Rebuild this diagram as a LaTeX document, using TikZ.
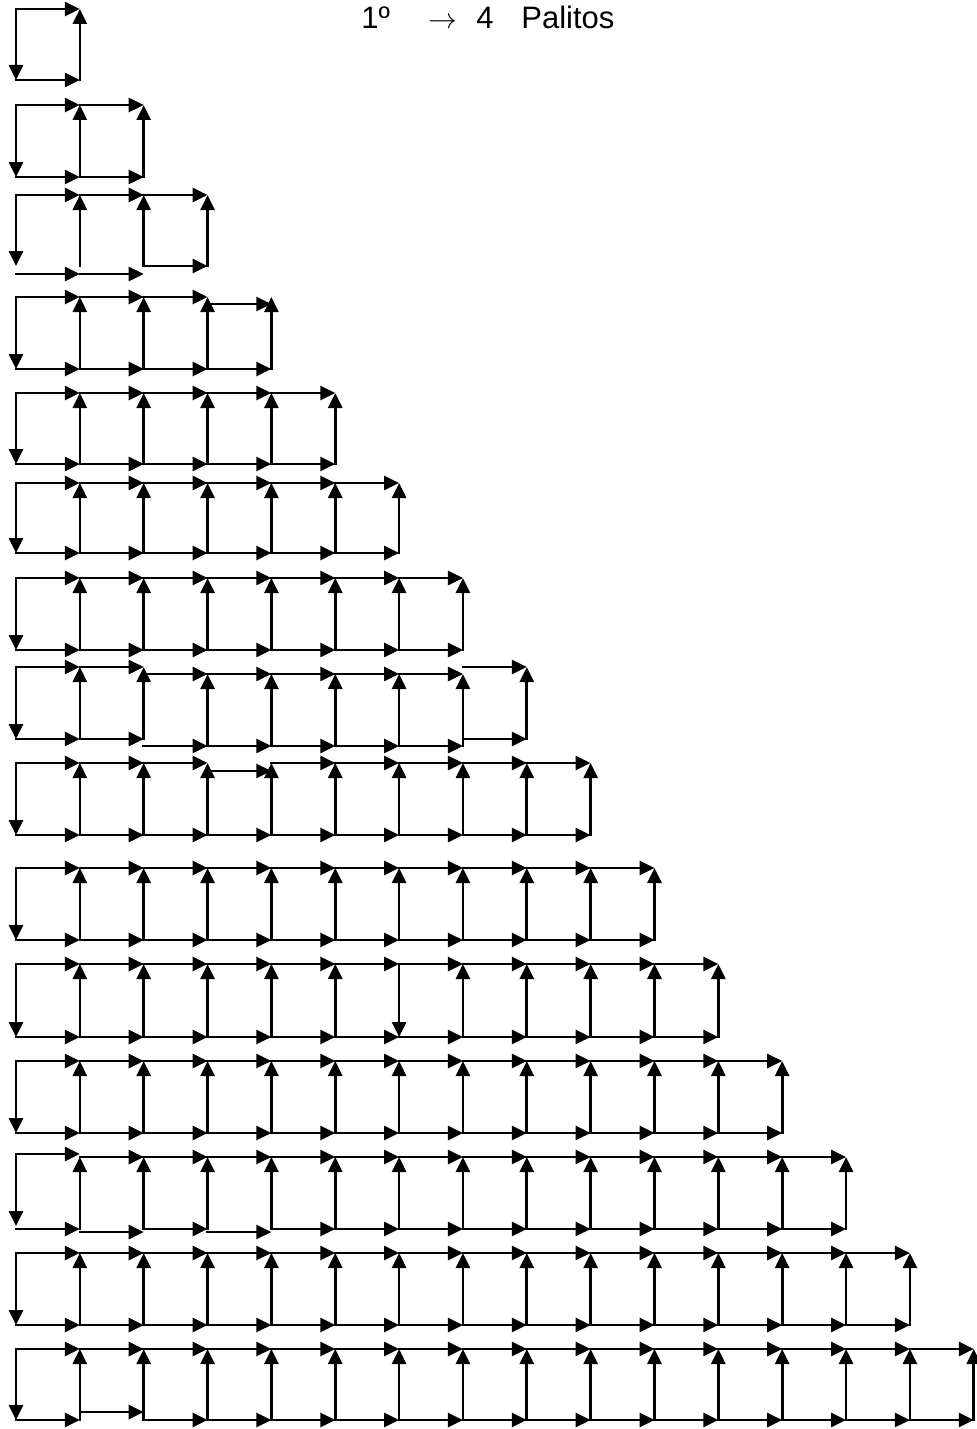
\documentclass[tikz,border=0pt]{standalone}
\usepackage{fontspec}
\setmainfont{Liberation Sans}
\usetikzlibrary{arrows.meta}
\tikzset{arr/.style={line width=1.35pt,line cap=rect,-{Triangle[length=7.5pt,width=7pt]}},
  ttl/.style={inner sep=0,font=\fontsize{15.5pt}{18pt}\selectfont}}
\newcommand\hx[2]{\draw[arr] ({16+63.85*((#1)-1)},#2) -- ({16+63.85*(#1)},#2);}
\newcommand\vu[3]{\draw[arr] ({16+63.85*(#1)},#2) -- ({16+63.85*(#1)},#3);}
\newcommand\rowreg[3]{%
  \vu{0}{#2}{#3}
  \foreach \j in {1,...,#1}{\hx{\j}{#2}\hx{\j}{#3}\vu{\j}{#3}{#2}}}
\begin{document}
\begin{tikzpicture}[x=0.5pt,y=-0.5pt]
\fill[white] (0,0) rectangle (977,1429);
\useasboundingbox (0,0) rectangle (977,1429);
% title
\node[ttl,anchor=base west] (n1) at (361,29) {1º};
\node[ttl,anchor=base] (ar) at (443,29) {$\rightarrow$};
\node[ttl,anchor=base] (n4) at (485,29) {4};
\node[ttl,anchor=base west] (pal) at (521,29) {Palitos};
% row 1, 2
\rowreg{1}{9}{80}
\rowreg{2}{105}{177}
% row 3
\vu{0}{195}{266}
\foreach \j in {1,2,3}{\hx{\j}{195}\vu{\j}{266}{195}}
\hx{1}{274}\hx{2}{274}\hx{3}{266}
% row 4
\vu{0}{297}{369}
\foreach \j in {1,...,4}{\hx{\j}{369}\vu{\j}{369}{297}}
\foreach \j in {1,2,3}{\hx{\j}{297}}
\hx{4}{304}
% rows 5-7
\rowreg{5}{393}{464}
\rowreg{6}{483}{553}
\rowreg{7}{578}{650}
% row 8
\vu{0}{667}{739}
\foreach \j in {1,2,8}{\hx{\j}{667}\hx{\j}{739}\vu{\j}{739}{667}}
\foreach \j in {3,...,7}{\hx{\j}{674}\hx{\j}{746}\vu{\j}{746}{674}}
% row 9
\vu{0}{763}{835}
\foreach \j in {1,...,9}{\hx{\j}{835}\vu{\j}{835}{763}}
\foreach \j in {1,2,3,5,6,7,8,9}{\hx{\j}{763}}
\hx{4}{771}
% row 10
\rowreg{10}{868}{940}
% row 11
\vu{0}{964}{1037}
\foreach \j in {1,...,11}{\hx{\j}{964}\hx{\j}{1037}}
\foreach \j in {1,2,3,4,5,7,8,9,10,11}{\vu{\j}{1037}{964}}
\vu{6}{964}{1037}
% row 12
\rowreg{12}{1061}{1133}
% row 13
\vu{0}{1154}{1226}
\hx{1}{1154}
\foreach \j in {2,...,13}{\hx{\j}{1157}}
\foreach \j in {1,3,5,6,7,8,9,10,11,12,13}{\hx{\j}{1229}}
\hx{2}{1232}\hx{4}{1232}
\foreach \j in {1,...,13}{\vu{\j}{1229}{1157}}
% row 14
\rowreg{14}{1253}{1325}
% row 15
\vu{0}{1349}{1420}
\foreach \j in {1,...,15}{\hx{\j}{1349}\vu{\j}{1420}{1349}}
\foreach \j in {1,3,4,...,15}{\hx{\j}{1420}}
\hx{2}{1412}
\end{tikzpicture}
\end{document}
